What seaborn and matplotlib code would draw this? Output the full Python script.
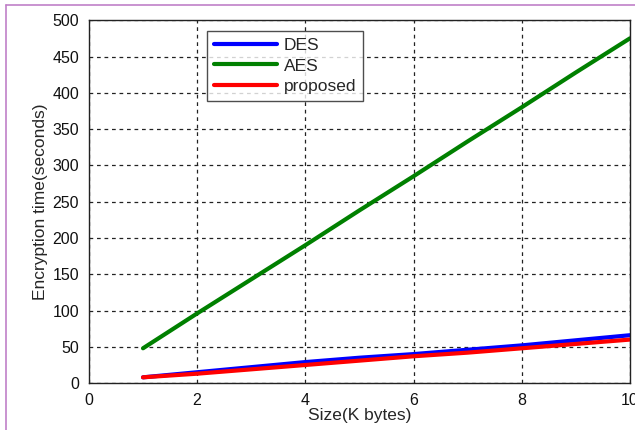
import matplotlib
matplotlib.use("Agg")
import matplotlib.pyplot as plt
import seaborn as sns
import pandas as pd
from matplotlib.lines import Line2D

# values
size_kb = [1, 2, 3, 4, 5, 6, 7, 8, 9, 10]
des = [8, 15, 22, 29, 35, 40, 46, 52, 59, 66]
aes = [48, 96, 143, 190, 238, 285, 333, 380, 428, 475]
proposed = [8, 13, 19, 25, 31, 37, 42, 48, 54, 60]

df = pd.DataFrame({
    "size": size_kb * 3,
    "time": des + aes + proposed,
    "method": ["DES"] * 10 + ["AES"] * 10 + ["proposed"] * 10,
})

sns.set_style("white")
plt.rcParams["font.family"] = ["Liberation Sans", "DejaVu Sans"]

fig = plt.figure(figsize=(6.35, 4.3), dpi=100)
ax = fig.add_axes([0.140, 0.109, 0.852, 0.844])

palette = {"DES": "#0000ff", "AES": "#008000", "proposed": "#ff0000"}
sns.lineplot(data=df, x="size", y="time", hue="method", palette=palette,
             linewidth=3, ax=ax, legend=True)

ax.set_xlim(0, 10)
ax.set_ylim(0, 500)
ax.set_xticks(range(0, 11, 2))
ax.set_yticks(range(0, 501, 50))
ax.grid(True, linestyle=(0, (3, 3)), color="#222222", linewidth=0.9)
for s in ax.spines.values():
    s.set_color("#222222")
    s.set_linewidth(1.0)
ax.tick_params(labelsize=11.5, colors="#111111", length=0, pad=7)
ax.set_xlabel("Size(K bytes)", fontsize=12.5, labelpad=0)
ax.set_ylabel("Encryption time(seconds)", fontsize=12.5, labelpad=3)

leg = ax.legend(loc="upper left", bbox_to_anchor=(0.219, 0.97), fontsize=12.5,
                frameon=True, fancybox=False, edgecolor="#222222",
                handlelength=3.6, borderpad=0.4, labelspacing=0.3,
                handletextpad=0.4, borderaxespad=0)
leg.get_frame().set_linewidth(1.0)

# thin purple frame at left and top of the image
fig.add_artist(Line2D([0.009, 0.009], [0, 0.988], color="#c080c8", linewidth=1.2,
                      transform=fig.transFigure))
fig.add_artist(Line2D([0.009, 1], [0.988, 0.988], color="#c080c8", linewidth=1.2,
                      transform=fig.transFigure))

fig.savefig("out.png", dpi=100)
